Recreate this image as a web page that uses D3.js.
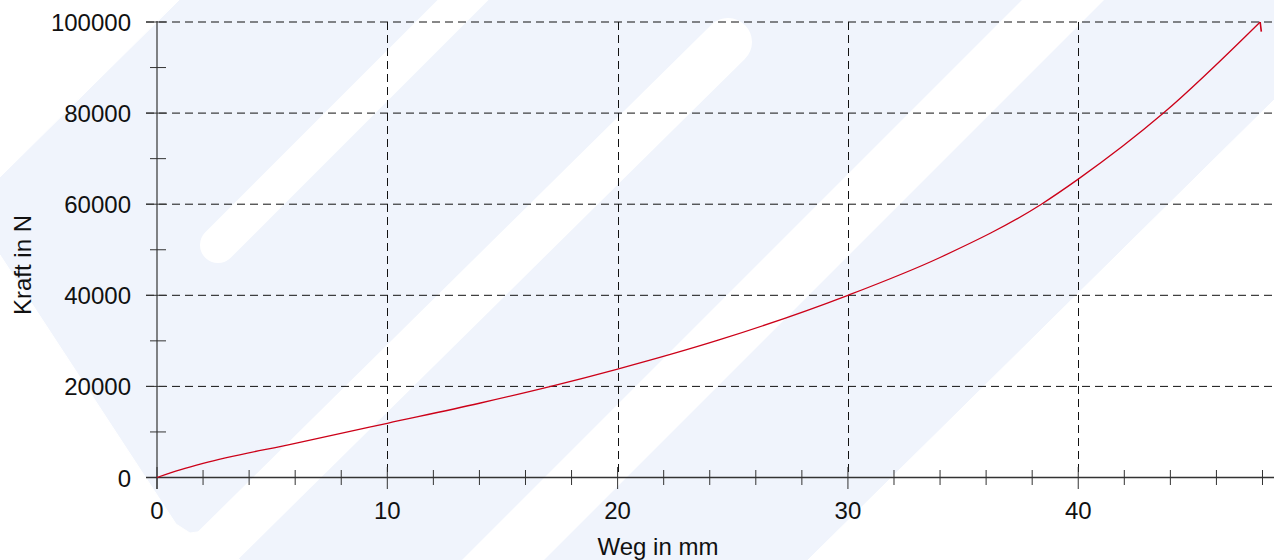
<!DOCTYPE html>
<html>
<head>
<meta charset="utf-8">
<script src="https://cdn.jsdelivr.net/npm/d3@7"></script>
<style>
  body { margin: 0; background: #fff; }
  text { font-family: "Liberation Sans", Arial, sans-serif; fill: #111; }
</style>
</head>
<body>
<div id="chart"></div>
<script>
// measured curve (Weg in mm / Kraft in N), last point = small drop at the end
const weg   = [0, 1, 2, 6, 10, 14, 17.1, 20, 24.4, 30, 34, 38.4, 40, 43.7, 47.9, 47.95];
const kraft = [0, 1650, 3100, 7500, 11900, 16300, 20000, 23800, 30200, 40000, 48300, 60000, 65500, 80000, 100000, 97900];

const xMajor = [0, 10, 20, 30, 40];
const xMinor = [2, 4, 6, 8, 12, 14, 16, 18, 22, 24, 26, 28, 32, 34, 36, 38, 42, 44, 46, 48];
const yMajor = [0, 20000, 40000, 60000, 80000, 100000];
const yMinor = [10000, 30000, 50000, 70000, 90000];

const W = 1274, H = 560;

const svg = d3.select("#chart").append("svg")
    .attr("width", W)
    .attr("height", H);

// background watermark
svg.append("rect").attr("width", W).attr("height", H).attr("fill", "#f0f4fc");
const wm = svg.append("g").attr("fill", "#fff").attr("stroke", "#fff");
wm.append("polygon").attr("points", "0,0 179,0 0,177");
wm.append("polygon").attr("points", "0,255 176,524 190,533 204,531 240,560 0,560");
wm.append("polygon").attr("points", "1274,100 1274,560 808,560");
wm.append("line").attr("x1", 218).attr("y1", 245).attr("x2", 520).attr("y2", -57)
    .attr("stroke-width", 36).attr("stroke-linecap", "round");
wm.append("line").attr("x1", 180).attr("y1", 583).attr("x2", 728).attr("y2", 42)
    .attr("stroke-width", 48).attr("stroke-linecap", "round");
wm.append("line").attr("x1", 460).attr("y1", 603).attr("x2", 1110).attr("y2", -47)
    .attr("stroke-width", 58);

const x = d3.scaleLinear().domain([0, 48.5]).range([157, 1274]);
const y = d3.scaleLinear().domain([0, 100000]).range([477.5, 22]);

// grid
svg.selectAll(".hgrid")
    .data(yMajor.filter(d => d > 0))
    .join("line")
    .attr("x1", 146).attr("x2", W)
    .attr("y1", d => y(d)).attr("y2", d => y(d))
    .attr("stroke", "#111").attr("stroke-dasharray", "8,5");
svg.selectAll(".vgrid")
    .data(xMajor.filter(d => d > 0))
    .join("line")
    .attr("x1", d => Math.round(x(d)) + 0.5).attr("x2", d => Math.round(x(d)) + 0.5)
    .attr("y1", y(100000)).attr("y2", y(0))
    .attr("stroke", "#111").attr("stroke-dasharray", "8,5");

// axes
svg.append("line")
    .attr("x1", 146).attr("x2", W).attr("y1", y(0)).attr("y2", y(0))
    .attr("stroke", "#333").attr("stroke-width", 1.6);
svg.append("line")
    .attr("x1", x(0)).attr("x2", x(0)).attr("y1", y(100000) - 1).attr("y2", 489)
    .attr("stroke", "#333").attr("stroke-width", 1.2);

svg.selectAll(".ymaj").data(yMajor).join("line")
    .attr("x1", 146).attr("x2", 166).attr("y1", d => y(d)).attr("y2", d => y(d))
    .attr("stroke", "#333");
svg.selectAll(".ymin").data(yMinor).join("line")
    .attr("x1", 150).attr("x2", 166).attr("y1", d => y(d)).attr("y2", d => y(d))
    .attr("stroke", "#333");
svg.selectAll(".xmaj").data(xMajor).join("line")
    .attr("x1", d => x(d)).attr("x2", d => x(d)).attr("y1", 467).attr("y2", 489)
    .attr("stroke", "#333");
svg.selectAll(".xmin").data(xMinor).join("line")
    .attr("x1", d => x(d)).attr("x2", d => x(d)).attr("y1", 470).attr("y2", 485)
    .attr("stroke", "#333");

// tick labels
svg.selectAll(".ylab").data(yMajor).join("text")
    .attr("x", 131).attr("y", d => y(d) + 9)
    .attr("text-anchor", "end")
    .style("font-size", "24px")
    .text(d => d);
svg.selectAll(".xlab").data(xMajor).join("text")
    .attr("x", d => x(d)).attr("y", 519)
    .attr("text-anchor", "middle")
    .style("font-size", "24px")
    .text(d => d);

// axis titles
svg.append("text")
    .attr("x", 658).attr("y", 555)
    .attr("text-anchor", "middle")
    .style("font-size", "24px")
    .text("Weg in mm");
svg.append("text")
    .attr("transform", "translate(31,265) rotate(-90)")
    .attr("text-anchor", "middle")
    .style("font-size", "24px")
    .text("Kraft in N");

// curve
const pts = weg.map((d, i) => [d, kraft[i]]);
const n = pts.length;
const line = d3.line().x(d => x(d[0])).y(d => y(d[1]));
svg.append("path")
    .datum(pts.slice(0, n - 1))
    .attr("fill", "none")
    .attr("stroke", "#cc0018")
    .attr("stroke-width", 1.3)
    .attr("d", line.curve(d3.curveMonotoneX));
svg.append("path")
    .datum(pts.slice(n - 2))
    .attr("fill", "none")
    .attr("stroke", "#cc0018")
    .attr("stroke-width", 1.6)
    .attr("d", line.curve(d3.curveLinear));
</script>
</body>
</html>
